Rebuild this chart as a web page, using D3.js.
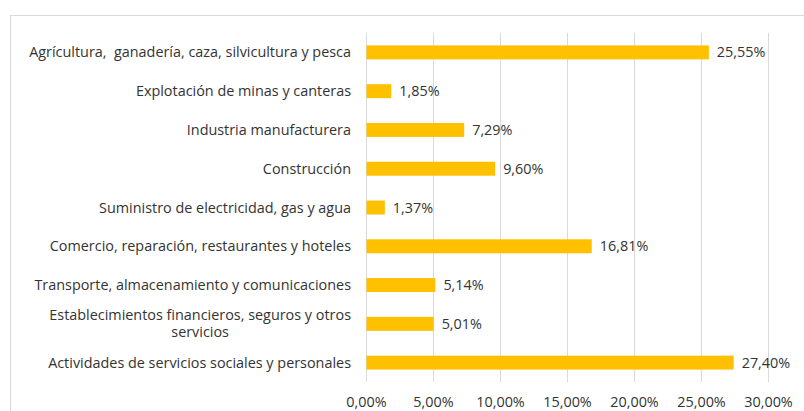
<!DOCTYPE html>
<html>
<head>
<meta charset="utf-8">
<script src="https://cdn.jsdelivr.net/npm/d3@7"></script>
<style>
  body { margin: 0; background: #fff; }
  svg text { font-family: "Open Sans", sans-serif; fill: #333; white-space: pre; }
</style>
</head>
<body>
<svg id="chart" width="804" height="411"></svg>
<script>
// categories (line breaks as in the reference)
var categories = [
    ['Agrícultura,  ganadería, caza, silvicultura y pesca'],
    ['Explotación de minas y canteras'],
    ['Industria manufacturera'],
    ['Construcción'],
    ['Suministro de electricidad, gas y agua'],
    ['Comercio, reparación, restaurantes y hoteles'],
    ['Transporte, almacenamiento y comunicaciones'],
    ['Establecimientos financieros, seguros y otros', 'servicios'],
    ['Actividades de servicios sociales y personales']
]
var values = [25.55, 1.85, 7.29, 9.60, 1.37, 16.81, 5.14, 5.01, 27.40]
var ticks = [0, 5, 10, 15, 20, 25, 30]

var fmt = d => d.toFixed(2).replace('.', ',') + '%'
var fs = '14.4px'

var svg = d3.select('#chart')

// chart frame
svg.append('rect')
    .attr('x', 10.5).attr('y', 15.5)
    .attr('width', 820).attr('height', 420)
    .attr('fill', 'none')
    .attr('stroke', '#d9d9d9')

var x = d3.scaleLinear().domain([0, 30]).range([366.5, 768.5])
var y = d3.scaleBand().domain(d3.range(values.length)).range([33, 382]).paddingInner(0.64).paddingOuter(0.32)

// gridlines
svg.append('g')
    .selectAll('line')
    .data(ticks)
    .enter()
    .append('line')
    .attr('x1', d => x(d)).attr('x2', d => x(d))
    .attr('y1', 33).attr('y2', 382)
    .attr('stroke', '#d9d9d9')
    .attr('stroke-width', 1)

// tick labels
svg.append('g')
    .selectAll('text')
    .data(ticks)
    .enter()
    .append('text')
    .attr('x', d => x(d))
    .attr('y', 407)
    .attr('text-anchor', 'middle')
    .style('font-size', fs)
    .text(fmt)

// bars
svg.append('g')
    .selectAll('rect')
    .data(values)
    .enter()
    .append('rect')
    .attr('x', x(0))
    .attr('y', (d, i) => y(i))
    .attr('width', d => x(d) - x(0))
    .attr('height', y.bandwidth())
    .attr('fill', '#ffc000')

// value labels
svg.append('g')
    .selectAll('text')
    .data(values)
    .enter()
    .append('text')
    .attr('x', d => x(d) + 8)
    .attr('y', (d, i) => y(i) + y.bandwidth() / 2 + 5)
    .style('font-size', fs)
    .text(fmt)

// category labels
var labelRight = 351
categories.forEach((lines, i) => {
    var cy = y(i) + y.bandwidth() / 2
    var t = svg.append('text')
        .style('font-size', fs)
        .attr('text-anchor', 'end')
    lines.forEach((ln, j) => {
        t.append('tspan')
            .attr('x', labelRight)
            .attr('y', cy + 5 + (j - (lines.length - 1) / 2) * 17)
            .text(ln)
    })
    if (lines.length > 1) {
        // center the wrapped lines against the widest one
        var widths = t.selectAll('tspan').nodes().map(n => n.getComputedTextLength())
        var maxW = d3.max(widths)
        t.attr('text-anchor', 'middle')
        t.selectAll('tspan').attr('x', labelRight - maxW / 2)
    }
})
</script>
</body>
</html>
